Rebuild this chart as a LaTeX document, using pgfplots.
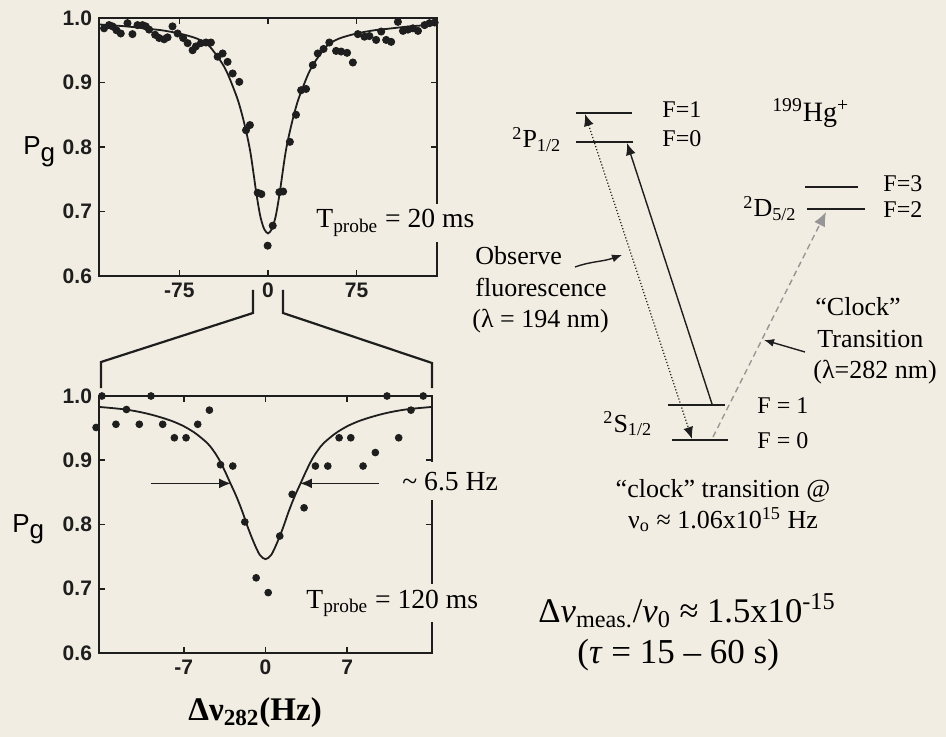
\documentclass[border=0pt]{standalone}
\usepackage{fontspec}
\setmainfont{Liberation Serif}
\newfontfamily\sansfont{Liberation Sans}
\usepackage{pgfplots}
\usepackage{pgfplotstable}
\pgfplotsset{compat=1.18}
\usetikzlibrary{arrows.meta}

\definecolor{paper}{RGB}{242,237,226}
\definecolor{ink}{RGB}{30,30,30}
\definecolor{clockgray}{RGB}{150,150,150}
\newcommand\fs[1]{\fontsize{#1}{#1}\selectfont}

% Ramsey/Rabi scan, T_probe = 20 ms
\pgfplotstableread{
x P
-138.7 0.984
-134.5 0.989
-131.6 0.987
-128.2 0.981
-124.6 0.976
-118.9 0.992
-114.7 0.975
-110.4 0.989
-106.2 0.989
-103.4 0.987
-100.6 0.982
-95.5 0.974
-92.1 0.969
-87.9 0.967
-85.0 0.970
-80.8 0.987
-76.5 0.976
-71.8 0.969
-68.0 0.961
-63.8 0.950
-61.0 0.956
-56.8 0.961
-52.5 0.962
-48.3 0.962
-42.6 0.940
-38.4 0.945
-34.2 0.932
-29.9 0.914
-24.3 0.901
-18.6 0.826
-15.3 0.834
-8.7 0.729
-5.6 0.727
-0.3 0.647
4.0 0.678
9.6 0.730
12.8 0.731
18.5 0.808
23.7 0.850
28.0 0.888
32.2 0.890
37.9 0.927
42.1 0.945
47.0 0.952
51.9 0.962
57.6 0.949
61.9 0.948
66.9 0.946
71.8 0.931
76.0 0.975
81.6 0.971
85.8 0.972
91.5 0.966
95.8 0.979
100.0 0.966
104.2 0.963
109.9 0.994
114.2 0.980
118.4 0.982
122.6 0.984
126.9 0.980
132.5 0.989
136.7 0.992
141.0 0.993
}\topdata

\pgfplotstableread{
x P
-143 0.990
-120 0.987
-100 0.983
-90 0.981
-75 0.976
-60 0.968
-50 0.957
-40 0.933
-35 0.917
-30 0.895
-25 0.870
-20 0.836
-15 0.793
-10 0.730
-7 0.697
-5 0.682
-3 0.672
0 0.666
3 0.672
5 0.682
7 0.697
10 0.730
15 0.793
20 0.836
25 0.870
30 0.895
35 0.917
40 0.933
50 0.957
60 0.968
75 0.976
90 0.981
100 0.983
120 0.987
143 0.990
}\topfit

% T_probe = 120 ms
\pgfplotstableread{
x P
-14.5 0.951
-14.0 1.000
-12.8 0.956
-11.9 0.979
-10.8 0.956
-9.8 1.000
-8.8 0.956
-7.8 0.935
-6.8 0.935
-5.8 0.956
-4.8 0.978
-3.85 0.893
-2.8 0.891
-1.77 0.804
-0.8 0.717
0.23 0.694
1.22 0.782
2.28 0.847
3.3 0.826
4.27 0.891
5.33 0.891
6.3 0.935
7.3 0.935
8.35 0.891
9.4 0.912
10.4 1.000
11.4 0.935
12.45 0.978
13.5 1.000
}\botdata

\pgfplotstableread{
x P
-14.25 0.983
-13 0.981
-12 0.979
-11 0.976
-10 0.972
-9 0.967
-8 0.961
-7 0.953
-6 0.942
-5 0.927
-4.5 0.916
-4 0.902
-3.5 0.884
-3 0.864
-2.5 0.844
-2 0.821
-1.5 0.795
-1 0.772
-0.5 0.753
0 0.746
0.5 0.753
1 0.772
1.5 0.795
2 0.821
2.5 0.844
3 0.864
3.5 0.884
4 0.902
4.5 0.916
5 0.927
6 0.942
7 0.953
8 0.961
9 0.967
10 0.972
11 0.976
12 0.979
13 0.981
14.25 0.983
}\botfit

\pgfplotsset{
  panel/.style={
    scale only axis,
    anchor=south west,
    clip=false,
    ymin=0.6, ymax=1.0,
    ytick={0.6,0.7,0.8,0.9,1.0},
    yticklabels={0.6,0.7,0.8,0.9,1.0},
    axis line style={ink, line width=0.9pt},
    tick style={ink, line width=0.8pt},
    major tick length=3pt,
    ticklabel style={font=\sansfont\bfseries\fs{10.5}, text=ink},
    /pgf/number format/assume math mode=true,
  },
  dots/.style={only marks, mark=*, mark size=1.8pt, ink, mark options={fill=ink, draw=ink}},
  fit/.style={no marks, smooth, ink, line width=0.9pt},
}

\begin{document}
\begin{tikzpicture}
\begin{scope}[x=0.5pt,y=-0.5pt]
  \fill[paper] (0,0) rectangle (946,737);
  \useasboundingbox (0,0) rectangle (946,737);
  \coordinate (topSW) at (99,276);
  \coordinate (botSW) at (99,653);
\end{scope}

% upper panel
\begin{axis}[panel, at={(topSW)}, width=169pt, height=129pt,
  xmin=-143, xmax=143, xtick={-75,0,75}, xticklabels={-75,0,75}]
  \addplot[fit] table[x=x,y=P] {\topfit};
  \addplot[dots] table[x=x,y=P] {\topdata};
\end{axis}

% lower panel
\begin{axis}[panel, at={(botSW)}, width=166.5pt, height=128.5pt,
  xmin=-14.25, xmax=14.25, xtick={-7,0,7}, xticklabels={-7,0,7}]
  \addplot[fit] table[x=x,y=P] {\botfit};
  \addplot[dots, mark size=1.7pt] table[x=x,y=P] {\botdata};
  \draw[ink, line width=0.8pt, -{Latex[length=6pt,width=5pt]}] (axis cs:-9.8,0.864) -- (axis cs:-2.95,0.864);
  \draw[ink, line width=0.8pt, -{Latex[length=6pt,width=5pt]}] (axis cs:9.7,0.864) -- (axis cs:2.95,0.864);
\end{axis}

\begin{scope}[x=0.5pt,y=-0.5pt]
  % zoom connector between the panels
  \draw[ink, line width=1.1pt] (253,290) -- (253,313) -- (101,362) -- (101,388);
  \draw[ink, line width=1.1pt] (283,290) -- (283,313) -- (432,363) -- (432,388);

  % panel annotations
  \node[anchor=base west, fill=paper, inner xsep=1pt, inner ysep=3pt] at (314,228)
    {\fs{13.8}T\textsubscript{probe} = 20 ms};
  \node[anchor=base west, fill=paper, inner xsep=1pt, inner ysep=3pt] at (304,608)
    {\fs{13.8}T\textsubscript{probe} = 120 ms};
  \node[anchor=base west, fill=paper, inner xsep=2pt, inner ysep=5pt] at (398,490)
    {\fs{13.8}\textasciitilde\ 6.5 Hz};
  \node[anchor=base west, inner sep=0pt] at (23,155)
    {\sansfont\fs{13}P\raisebox{-0.5ex}{g}};
  \node[anchor=base west, inner sep=0pt] at (12,532)
    {\sansfont\fs{13}P\raisebox{-0.5ex}{g}};
  \node[anchor=base west, inner sep=0pt] at (188,720)
    {\fs{16.5}\bfseries Δν\textsubscript{282}(Hz)};

  % energy levels
  \begin{scope}[ink, line width=0.7pt]
    \draw (576,113) -- (632,113);
    \draw (576,142) -- (633,142);
    \draw (805,187) -- (858,187);
    \draw (807,209) -- (865,209);
    \draw (668,405) -- (725,405);
    \draw (672,440) -- (728,440);
  \end{scope}

  \node[anchor=base west, inner sep=0pt] at (512,148) {\fs{13}\textsuperscript{2}P\textsubscript{1/2}};
  \node[anchor=base west, inner sep=0pt] at (743,217) {\fs{13}\textsuperscript{2}D\textsubscript{5/2}};
  \node[anchor=base west, inner sep=0pt] at (603,432) {\fs{13}\textsuperscript{2}S\textsubscript{1/2}};
  \node[anchor=base west, inner sep=0pt] at (662,118) {\fs{12}F=1};
  \node[anchor=base west, inner sep=0pt] at (662,147) {\fs{12}F=0};
  \node[anchor=base west, inner sep=0pt] at (883,192) {\fs{12}F=3};
  \node[anchor=base west, inner sep=0pt] at (883,218) {\fs{12}F=2};
  \node[anchor=base west, inner sep=0pt] at (757,413) {\fs{12}F = 1};
  \node[anchor=base west, inner sep=0pt] at (757,448) {\fs{12}F = 0};
  \node[anchor=base west, inner sep=0pt] at (772,122) {\fs{14}\textsuperscript{199}Hg\textsuperscript{+}};

  % transitions
  \draw[ink, line width=0.6pt, densely dotted, {Latex[length=6pt,width=5pt]}-{Latex[length=6pt,width=5pt]}]
    (585,114) -- (692,439);
  \draw[ink, line width=0.7pt, -{Latex[length=6pt,width=5pt]}] (712,404) -- (627,143);
  \draw[clockgray, line width=0.7pt, densely dashed, -{Latex[length=7pt,width=6pt]}] (713,437) -- (826,212);

  \node[anchor=base west, inner sep=0pt] at (475,265) {\fs{13}Observe};
  \node[anchor=base west, inner sep=0pt] at (475,297) {\fs{13}fluorescence};
  \node[anchor=base west, inner sep=0pt] at (472,328) {\fs{13}(λ = 194 nm)};
  \draw[ink, line width=0.7pt, -{Latex[length=5pt,width=4pt]}] (575,267) .. controls (592,261) and (602,262) .. (622,255);

  \node[anchor=base west, inner sep=0pt] at (815,315) {\fs{13}“Clock”};
  \node[anchor=base west, inner sep=0pt] at (817,347) {\fs{13}Transition};
  \node[anchor=base west, inner sep=0pt] at (813,378) {\fs{13}(λ=282 nm)};
  \draw[ink, line width=0.7pt, -{Latex[length=5pt,width=4pt]}] (805,352) -- (764,340);

  \node[anchor=base, inner sep=0pt] at (723,497) {\fs{13}“clock” transition @};
  \node[anchor=base, inner sep=0pt] at (723,528) {\fs{13}ν\textsubscript{o} ≈ 1.06x10\textsuperscript{15} Hz};

  \node[anchor=base west, inner sep=0pt] at (538,622)
    {\fs{17.3}Δ\textit{ν}\textsubscript{meas.}/\textit{ν}\textsubscript{0} ≈ 1.5x10\textsuperscript{-15}};
  \node[anchor=base west, inner sep=0pt] at (577,663)
    {\fs{17.5}(\textit{τ} = 15 – 60 s)};
\end{scope}
\end{tikzpicture}
\end{document}
